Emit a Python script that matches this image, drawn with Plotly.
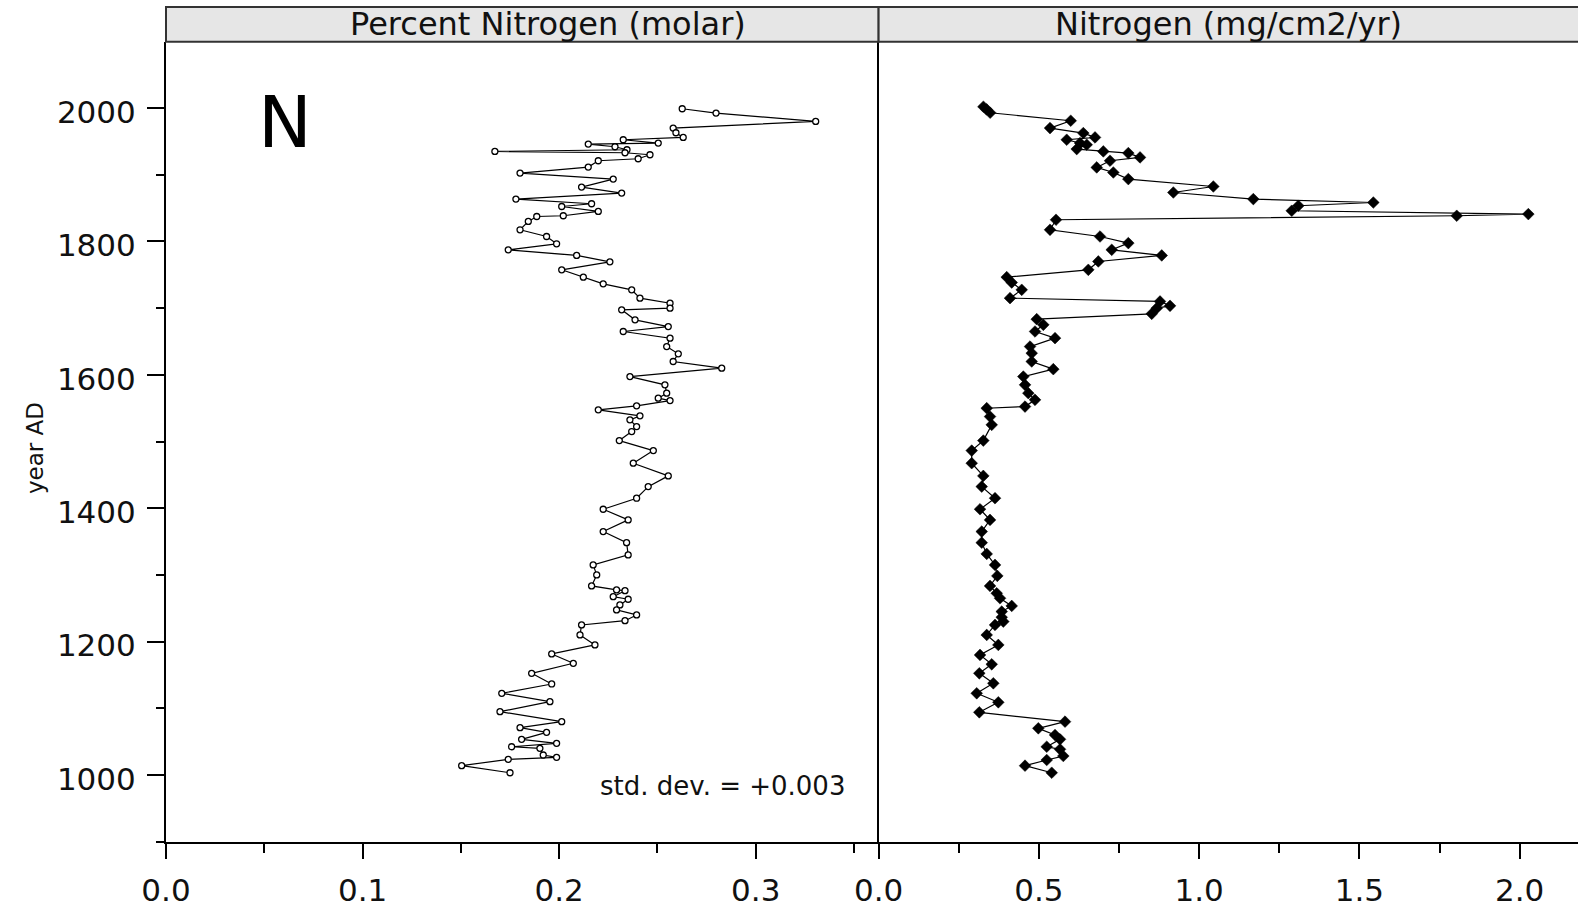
import plotly.graph_objects as go

# ---------------- data ----------------
# Left panel: Percent Nitrogen (molar)
pn_year = [1999, 1992.5, 1980, 1970, 1963, 1956, 1952.5, 1947.5, 1946, 1942, 1937.5,
           1935, 1933, 1930, 1924, 1921, 1911.5, 1902.5, 1893.5, 1881.5, 1872.5,
           1863.5, 1856.5, 1852.4, 1845, 1838.5, 1837.4, 1830, 1817.5, 1807.4, 1796.5,
           1787.5, 1779, 1769.5, 1757.5, 1746.5, 1736.5, 1727.5, 1715, 1707.5, 1700,
           1697.5, 1682.5, 1672.4, 1665, 1655, 1642.4, 1631.5, 1620, 1610, 1597.4,
           1585, 1572.5, 1565, 1561.4, 1553.5, 1547.5, 1538.5, 1532.5, 1522.4, 1515,
           1501.4, 1486.4, 1467.5, 1448.5, 1432.4, 1415, 1398.5, 1382.5, 1365, 1348.4,
           1330, 1315, 1300, 1283.5, 1277.5, 1276.4, 1267.4, 1263.5, 1255, 1247.5,
           1240, 1231.4, 1225, 1210, 1195, 1181.5, 1167.5, 1152.5, 1136.5, 1122.5,
           1110, 1095, 1080, 1071, 1064, 1053.5, 1047.5, 1042.4, 1040, 1030,
           1026.5, 1023.5, 1014, 1003.4]
pn_value = [0.2626, 0.2798, 0.3305, 0.2580, 0.2594, 0.2631, 0.2326, 0.2504, 0.2148, 0.2284, 0.2345,
            0.1673, 0.2335, 0.2462, 0.2402, 0.2199, 0.2148, 0.1801, 0.2275, 0.2114, 0.2318,
            0.1780, 0.2165, 0.2013, 0.2199, 0.2021, 0.1886, 0.1843, 0.1801, 0.1936, 0.1987,
            0.1741, 0.2089, 0.2258, 0.2013, 0.2123, 0.2224, 0.2369, 0.2411, 0.2564, 0.2564,
            0.2318, 0.2386, 0.2555, 0.2326, 0.2564, 0.2547, 0.2606, 0.2580, 0.2827, 0.2360,
            0.2538, 0.2547, 0.2504, 0.2564, 0.2394, 0.2199, 0.2411, 0.2360, 0.2394, 0.2369,
            0.2306, 0.2479, 0.2377, 0.2555, 0.2453, 0.2394, 0.2224, 0.2351, 0.2224, 0.2343,
            0.2351, 0.2173, 0.2191, 0.2165, 0.2292, 0.2335, 0.2275, 0.2351, 0.2309, 0.2292,
            0.2394, 0.2335, 0.2114, 0.2106, 0.2182, 0.1962, 0.2072, 0.1860, 0.1962, 0.1708,
            0.1953, 0.1699, 0.2013, 0.1801, 0.1936, 0.1809, 0.1987, 0.1758, 0.1902, 0.1919,
            0.1987, 0.1741, 0.1504, 0.1750]

# Right panel: Nitrogen flux (mg/cm2/yr)
nf_year = [2002, 1998, 1993, 1981, 1970, 1962.5, 1956, 1952.5, 1947.5, 1945, 1938.5,
           1935, 1932.5, 1926, 1921, 1911, 1903.4, 1893.5, 1882.4, 1873.4, 1863.5,
           1858.4, 1853.5, 1846, 1841, 1838.5, 1832.5, 1817.5, 1807.4, 1797.5, 1787.5,
           1779, 1770, 1757.5, 1746.5, 1738.4, 1727.5, 1715, 1710, 1703.5, 1700,
           1691.5, 1683.5, 1675, 1665, 1655, 1642.4, 1632.5, 1620, 1608.5, 1597.4,
           1585, 1572.5, 1562.5, 1552.4, 1550, 1537.4, 1525, 1501.4, 1486.4, 1467.5,
           1448.5, 1432.4, 1415, 1398.5, 1382.5, 1365, 1348.4, 1331.5, 1315, 1298.5,
           1283.5, 1272.5, 1265, 1253.5, 1245, 1236.5, 1230, 1225, 1210, 1195,
           1180, 1166, 1152.5, 1137.5, 1122.5, 1109, 1094, 1080, 1070, 1060,
           1053.5, 1042.4, 1038.5, 1028.5, 1022.5, 1014, 1003.4]
nf_value = [0.327, 0.337, 0.348, 0.5994, 0.5348, 0.6387, 0.6752, 0.5869, 0.6284, 0.6493, 0.6181,
            0.7011, 0.7791, 0.8156, 0.7220, 0.6805, 0.7323, 0.7791, 1.0443, 0.9195, 1.1691,
            1.5435, 1.3095, 1.2889, 2.0271, 1.8037, 0.5535, 0.5348, 0.6908, 0.7791, 0.7273,
            0.8833, 0.6855, 0.6543, 0.3997, 0.4153, 0.4465, 0.4100, 0.8780, 0.9092, 0.8677,
            0.8521, 0.4933, 0.5139, 0.4880, 0.5504, 0.4724, 0.4777, 0.4777, 0.5451, 0.4515,
            0.4568, 0.4671, 0.4880, 0.4568, 0.3373, 0.3476, 0.3529, 0.3267, 0.2905, 0.2905,
            0.3267, 0.3217, 0.3632, 0.3164, 0.3476, 0.3217, 0.3217, 0.3373, 0.3632, 0.3704,
            0.3476, 0.3685, 0.3788, 0.4153, 0.3841, 0.3841, 0.3891, 0.3632, 0.3373, 0.3735,
            0.3164, 0.3529, 0.3142, 0.3579, 0.3061, 0.3735, 0.3142, 0.5816, 0.4983, 0.5504,
            0.5660, 0.5245, 0.5660, 0.5763, 0.5245, 0.4568, 0.5401]

left_title = "Percent Nitrogen (molar)"
right_title = "Nitrogen (mg/cm2/yr)"
panel_letter = "N"
std_note = "std. dev. = +0.003"
y_title = "year AD"

# ---------------- layout helpers ----------------
W, H = 1578, 911
def px(x):
    return x / W
def py(y):
    return 1 - y / H

x_left0, x_div, x_right1 = 166, 878.6, W
y_top, y_bot = 41.7, 841.7
head_top = 7

FONT = "DejaVu Sans"
tickfont = dict(family=FONT, size=31, color="#111111")

fig = go.Figure()
fig.add_trace(go.Scatter(
    x=pn_value, y=pn_year, mode="lines+markers", xaxis="x", yaxis="y",
    line=dict(color="black", width=1.2),
    marker=dict(symbol="circle", size=6, color="white", line=dict(color="black", width=1.3)),
    showlegend=False, hoverinfo="skip"))
fig.add_trace(go.Scatter(
    x=nf_value, y=nf_year, mode="lines+markers", xaxis="x2", yaxis="y2",
    line=dict(color="black", width=1.2),
    marker=dict(symbol="diamond", size=9, color="black", line=dict(color="black", width=0.5)),
    showlegend=False, hoverinfo="skip"))

ydom = [py(y_bot), py(y_top)]
yrange = [900, 2099.5]

common_x = dict(showgrid=False, zeroline=False, showline=True, linecolor="black", linewidth=2,
                ticks="outside", ticklen=15, tickwidth=2, tickcolor="black",
                tickfont=tickfont, ticklabelstandoff=5, automargin=False)

fig.update_layout(
    width=W, height=H, margin=dict(l=0, r=0, t=0, b=0, pad=0, autoexpand=False),
    paper_bgcolor="white", plot_bgcolor="white",
    xaxis=dict(domain=[px(x_left0), px(x_div)], range=[0, 0.3625], anchor="y",
               tickvals=[0.0, 0.1, 0.2, 0.3], ticktext=["0.0", "0.1", "0.2", "0.3"],
               minor=dict(tickvals=[0.05, 0.15, 0.25, 0.35], ticks="outside", ticklen=9,
                          tickwidth=2, tickcolor="black"),
               **common_x),
    xaxis2=dict(domain=[px(x_div), 1.0], range=[0, 2.182], anchor="y2",
                tickvals=[0.0, 0.5, 1.0, 1.5, 2.0], ticktext=["0.0", "0.5", "1.0", "1.5", "2.0"],
                minor=dict(tickvals=[0.25, 0.75, 1.25, 1.75], ticks="outside", ticklen=9,
                           tickwidth=2, tickcolor="black"),
                **common_x),
    yaxis=dict(domain=ydom, range=yrange, anchor="x", showgrid=False, zeroline=False,
               showline=True, linecolor="black", linewidth=2, automargin=False,
               tickvals=[1000, 1200, 1400, 1600, 1800, 2000],
               ticks="outside", ticklen=17, tickwidth=2, tickcolor="black",
               minor=dict(tickvals=[900, 1100, 1300, 1500, 1700, 1900], ticks="outside",
                          ticklen=8, tickwidth=2, tickcolor="black"),
               tickfont=tickfont, ticklabelstandoff=5, ticklabelshift=4),
    yaxis2=dict(domain=ydom, range=yrange, anchor="x2", showgrid=False, zeroline=False,
                showline=True, linecolor="black", linewidth=1.5, showticklabels=False,
                ticks="", automargin=False),
)

# header strips
hdr_line = dict(color="#333333", width=2)
fig.add_shape(type="rect", xref="paper", yref="paper",
              x0=px(x_left0), x1=px(x_div), y0=py(y_top), y1=py(head_top),
              fillcolor="#e6e6e6", line=hdr_line, layer="above")
fig.add_shape(type="rect", xref="paper", yref="paper",
              x0=px(x_div), x1=1.01, y0=py(y_top), y1=py(head_top),
              fillcolor="#e6e6e6", line=hdr_line, layer="above")

hdr_font = dict(family=FONT, size=32, color="#111111")
fig.add_annotation(text=left_title, xref="paper", yref="paper", x=px(548), y=py(24.5),
                   showarrow=False, font=hdr_font, xanchor="center", yanchor="middle")
fig.add_annotation(text=right_title, xref="paper", yref="paper", x=px(1228), y=py(24.5),
                   showarrow=False, font=hdr_font, xanchor="center", yanchor="middle")

fig.add_annotation(text=panel_letter, xref="paper", yref="paper", x=px(285), y=py(122),
                   showarrow=False, font=dict(family=FONT, size=72, color="black"),
                   xanchor="center", yanchor="middle")
fig.add_annotation(text=std_note, xref="paper", yref="paper", x=px(722), y=py(786),
                   showarrow=False, font=dict(family=FONT, size=26, color="#111111"),
                   xanchor="center", yanchor="middle")
fig.add_annotation(text=y_title, xref="paper", yref="paper", x=px(35), y=py(448),
                   showarrow=False, textangle=-90, font=dict(family=FONT, size=23, color="#111111"),
                   xanchor="center", yanchor="middle")

fig.write_html("out.html", config={"displayModeBar": False},
               post_script="document.body.style.margin='0';document.body.style.overflow='hidden';")
